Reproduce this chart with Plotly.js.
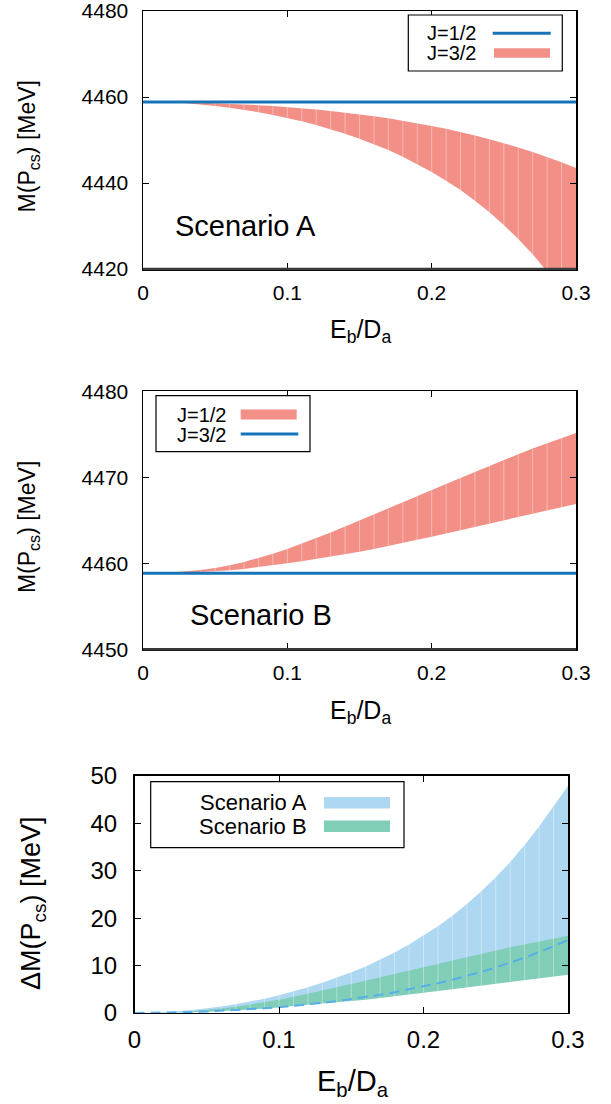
<!DOCTYPE html>
<html><head><meta charset="utf-8">
<script src="https://cdn.plot.ly/plotly-3.0.1.min.js"></script>
<style>html,body{margin:0;padding:0;background:#fff}</style>
</head><body><div id="chart" style="width:611px;height:1104px"></div>
<script>
// ---------------- data ----------------
const Eb = [0,0.01,0.02,0.03,0.04,0.05,0.06,0.07,0.08,0.09,0.10,0.11,0.12,0.13,0.14,0.15,0.16,0.17,0.18,0.19,0.20,0.21,0.22,0.23,0.24,0.25,0.26,0.27,0.28,0.29,0.30];
// Scenario A: mass splitting band (J=3/2 below J=1/2)
const dM_A_lo = [0,0.01,0.05,0.10,0.18,0.29,0.42,0.57,0.76,0.97,1.20,1.47,1.77,2.11,2.48,2.88,3.33,3.82,4.36,4.94,5.57,6.25,6.99,7.79,8.66,9.59,10.59,11.66,12.81,14.04,15.36];
const dM_A_hi = [0,0.04,0.15,0.33,0.59,0.93,1.33,1.82,2.37,3.01,3.72,4.51,5.39,6.35,7.40,8.55,9.81,11.2,12.75,14.45,16.3,18.3,20.5,22.95,25.65,28.6,31.85,35.4,39.3,43.5,47.9];
// Scenario B: mass splitting band (J=1/2 above J=3/2)
const dM_B_lo = [0,0.01,0.03,0.07,0.13,0.22,0.34,0.50,0.70,0.92,1.16,1.40,1.66,1.93,2.21,2.50,2.80,3.14,3.50,3.88,4.25,4.63,5.00,5.38,5.76,6.14,6.52,6.90,7.28,7.66,8.05];
const dM_B_hi = [0,0.02,0.08,0.20,0.37,0.60,0.92,1.30,1.75,2.25,2.80,3.40,4.05,4.72,5.42,6.12,6.83,7.54,8.25,8.95,9.65,10.37,11.08,11.78,12.48,13.17,13.84,14.49,15.12,15.72,16.3];
// reference (unshifted) mass
const M_ref = 4458.85;
// ticks
const xTickVals = [0,0.1,0.2,0.3];
const xTickText = ['0','0.1','0.2','0.3'];
const yTicks1 = [4420,4440,4460,4480];
const yTicks2 = [4450,4460,4470,4480];
const yTicks3 = [0,10,20,30,40,50];

// ---------------- helpers ----------------
const W = 611, H = 1104;
const X = p => p / W, Y = p => 1 - p / H;
const FONT = 'Liberation Sans, Arial, sans-serif';
const C_BLUE = '#1874b8', C_RED = '#f29088', C_LBLUE = '#aed8f2', C_GREEN = '#80cdb8', C_DASH = '#58aee6';

function bandTraces(xs, lo, hi, color, xa, ya) {
  const px = xs.concat(xs.slice().reverse());
  const py = lo.concat(hi.slice().reverse());
  const poly = {x: px, y: py, xaxis: xa, yaxis: ya, type: 'scatter', mode: 'lines',
    fill: 'toself', fillcolor: color, line: {width: 0, color: color}, hoverinfo: 'skip'};
  const sx = [], sy = [];
  for (let i = 1; i < xs.length - 1; i++) {
    if (Math.abs(hi[i] - lo[i]) < 1e-9) continue;
    sx.push(xs[i], xs[i], null); sy.push(lo[i], hi[i], null);
  }
  const stripes = {x: sx, y: sy, xaxis: xa, yaxis: ya, type: 'scatter', mode: 'lines',
    line: {width: 0.8, color: 'rgba(255,255,255,0.45)'}, hoverinfo: 'skip'};
  return [poly, stripes];
}

const A_J32_lo = dM_A_hi.map(d => M_ref - d);
const A_J32_hi = dM_A_lo.map(d => M_ref - d);
const B_J12_lo = dM_B_lo.map(d => M_ref + d);
const B_J12_hi = dM_B_hi.map(d => M_ref + d);
const xEnds = [Eb[0], Eb[Eb.length - 1]];

const traces = [
  ...bandTraces(Eb, A_J32_lo, A_J32_hi, C_RED, 'x', 'y'),
  {x: xEnds, y: [M_ref, M_ref], xaxis: 'x', yaxis: 'y', type: 'scatter', mode: 'lines', line: {color: C_BLUE, width: 3}},
  ...bandTraces(Eb, B_J12_lo, B_J12_hi, C_RED, 'x2', 'y2'),
  {x: xEnds, y: [M_ref, M_ref], xaxis: 'x2', yaxis: 'y2', type: 'scatter', mode: 'lines', line: {color: C_BLUE, width: 3}},
  ...bandTraces(Eb, dM_A_lo, dM_A_hi, C_LBLUE, 'x3', 'y3'),
  ...bandTraces(Eb, dM_B_lo, dM_B_hi, C_GREEN, 'x3', 'y3'),
  {x: Eb, y: dM_A_lo, xaxis: 'x3', yaxis: 'y3', type: 'scatter', mode: 'lines', line: {color: C_DASH, width: 2, dash: '10px,6px'}}
];

function ax(extra, fs) {
  return Object.assign({
    showline: true, linecolor: '#000', linewidth: 1.5, mirror: 'allticks',
    ticks: 'inside', ticklen: 6, tickwidth: 1, tickcolor: '#000',
    showgrid: false, zeroline: false, fixedrange: true, ticklabeloverflow: 'allow',
    tickfont: {family: FONT, size: fs, color: '#000'}
  }, extra);
}

const layout = {
  width: W, height: H, margin: {l: 0, r: 0, t: 0, b: 0},
  paper_bgcolor: '#fff', plot_bgcolor: '#fff', showlegend: false,
  xaxis: ax({domain: [X(143), X(576)], range: [0, 0.3], anchor: 'y', tickvals: xTickVals, ticktext: xTickText, ticklabelstandoff: 4}, 21),
  yaxis: ax({domain: [Y(269), Y(11)], range: [4420, 4480], anchor: 'x', tickvals: yTicks1, ticklabelstandoff: 9}, 21),
  xaxis2: ax({domain: [X(143), X(576)], range: [0, 0.3], anchor: 'y2', tickvals: xTickVals, ticktext: xTickText, ticklabelstandoff: 4}, 21),
  yaxis2: ax({domain: [Y(649.3), Y(391.3)], range: [4450, 4480], anchor: 'x2', tickvals: yTicks2, ticklabelstandoff: 9}, 21),
  xaxis3: ax({domain: [X(134.5), X(568)], range: [0, 0.3], anchor: 'y3', tickvals: xTickVals, ticktext: xTickText, ticklabelstandoff: 5}, 24),
  yaxis3: ax({domain: [Y(1012.9), Y(775.9)], range: [0, 50], anchor: 'x3', tickvals: yTicks3, ticklabelstandoff: 11}, 24),
  shapes: [],
  annotations: []
};

const S = layout.shapes, A = layout.annotations;
// thicker bottom frame for panels 1 & 2
S.push({type: 'line', xref: 'paper', yref: 'paper', x0: X(143), x1: X(576), y0: Y(269), y1: Y(269), line: {color: '#3a3a3a', width: 2.5}});
S.push({type: 'line', xref: 'paper', yref: 'paper', x0: X(143), x1: X(576), y0: Y(649.3), y1: Y(649.3), line: {color: '#3a3a3a', width: 2.5}});

function rect(x0, x1, y0, y1, fill, lw) {
  S.push({type: 'rect', xref: 'paper', yref: 'paper', x0: X(x0), x1: X(x1), y0: Y(y1), y1: Y(y0),
    fillcolor: fill, line: {color: lw ? '#000' : fill, width: lw || 0}, layer: 'above'});
}
function hline(x0, x1, y, color, w) {
  S.push({type: 'line', xref: 'paper', yref: 'paper', x0: X(x0), x1: X(x1), y0: Y(y), y1: Y(y), line: {color: color, width: w}, layer: 'above'});
}
function text(t, x, y, size, xanchor, angle, h) {
  const a = {text: t, xref: 'paper', yref: 'paper', x: X(x), y: Y(y), xanchor: xanchor || 'center', yanchor: 'middle',
    showarrow: false, textangle: angle || 0, font: {family: FONT, size: size, color: '#000'}};
  if (h) a.height = h;
  A.push(a);
}

// legends
rect(408.3, 562.3, 15, 71, '#fff', 1.2);
text('J=1/2', 478.3, 33.3, 20, 'right', 0, 18); hline(492.7, 550.7, 33.3, C_BLUE, 3);
text('J=3/2', 478.3, 53.3, 20, 'right', 0, 18); rect(494, 550, 48.3, 57.7, C_RED);

rect(156, 310, 395.7, 451.7, '#fff', 1.2);
text('J=1/2', 228.3, 414.6, 20, 'right', 0, 18); rect(240.7, 296.7, 409.6, 419.6, C_RED);
text('J=3/2', 228.3, 434.6, 20, 'right', 0, 18); hline(240.7, 298.3, 434, C_BLUE, 3);

rect(150.7, 404, 781.7, 847.7, '#fff', 1.2);
text('Scenario A', 309, 802, 22, 'right', 0, 20); rect(324, 390, 797, 808.6, C_LBLUE);
text('Scenario B', 309, 826, 22, 'right', 0, 20); rect(324, 390, 820.4, 832.1, C_GREEN);

// scenario labels
text('Scenario A', 172.7, 225.8, 29, 'left');
text('Scenario B', 187.7, 615, 29, 'left');

// axis titles
text('E<sub>b</sub>/D<sub>a</sub>', 360.4, 331, 25);
text('E<sub>b</sub>/D<sub>a</sub>', 360.4, 712, 25);
text('E<sub>b</sub>/D<sub>a</sub>', 353.1, 1083, 29);
text('M(P<sub>cs</sub>) [MeV]', 28.4, 146, 23, 'center', -90);
text('M(P<sub>cs</sub>) [MeV]', 28.4, 526.7, 23, 'center', -90);
text('ΔM(P<sub>cs</sub>) [MeV]', 33, 904, 27, 'center', -90);

Plotly.newPlot('chart', traces, layout, {displayModeBar: false, staticPlot: true});
</script></body></html>
